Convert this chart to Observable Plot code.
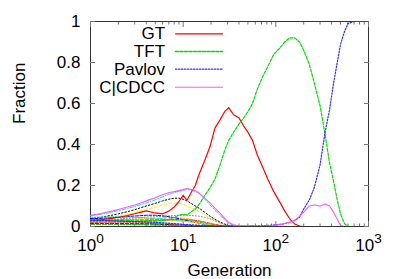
<!DOCTYPE html>
<html><head><meta charset="utf-8">
<script src="https://cdn.jsdelivr.net/npm/d3@7"></script>
<script src="https://cdn.jsdelivr.net/npm/@observablehq/plot@0.6"></script>
<style>
html,body{margin:0;padding:0;background:#fff;}
#chart svg{display:block;}
</style></head><body><div id="chart"></div>
<script>
// Generations sampled for the main strategies
const gens = [1,1.3,1.7,2,2.5,3,3.5,4,5,6,7,8,9,10,11,12,13.5,15,17,19.5,22,25,28,31,35,40,45,50,56,63,72,82,95,110,125,140,160,180,200,230,260,300,340,380,420,460,500,550,600,700,800,1000];
const gtFrac = [0.03,0.034,0.04,0.045,0.053,0.062,0.07,0.076,0.066,0.062,0.075,0.095,0.122,0.152,0.128,0.16,0.2,0.26,0.32,0.39,0.48,0.52,0.56,0.58,0.545,0.53,0.49,0.46,0.42,0.35,0.29,0.23,0.17,0.12,0.075,0.04,0.012,0.002,0,0,0,0,0,0,0,0,0,0,0,0,0,0];
const tftFrac = [0.03,0.03,0.03,0.03,0.029,0.028,0.028,0.027,0.027,0.03,0.035,0.045,0.055,0.06,0.055,0.07,0.085,0.11,0.15,0.19,0.23,0.3,0.37,0.42,0.46,0.5,0.53,0.56,0.6,0.67,0.73,0.78,0.84,0.87,0.9,0.92,0.92,0.9,0.86,0.79,0.7,0.59,0.45,0.31,0.22,0.13,0.06,0.015,0,0,0,0];
const pavlovFrac = [0.03,0.03,0.028,0.027,0.025,0.024,0.023,0.022,0.02,0.018,0.016,0.014,0.012,0.01,0.009,0.008,0.007,0.006,0.005,0.004,0.003,0.003,0.002,0.002,0.002,0.002,0.002,0.002,0.003,0.003,0.004,0.005,0.007,0.01,0.014,0.02,0.03,0.045,0.085,0.13,0.19,0.3,0.46,0.57,0.7,0.8,0.89,0.95,0.99,1,1,1];
const ccdccFrac = [0.055,0.063,0.075,0.083,0.095,0.105,0.115,0.125,0.14,0.155,0.165,0.17,0.175,0.18,0.185,0.182,0.175,0.162,0.14,0.115,0.09,0.065,0.04,0.02,0.008,0.003,0.002,0.002,0.002,0.002,0.002,0.003,0.005,0.01,0.015,0.02,0.03,0.05,0.07,0.1,0.105,0.1,0.11,0.1,0.07,0.035,0.005,0,0,0,0,0];

// Generations sampled for the other (unlabelled) strategies
const gensOther = [1,1.3,1.7,2,2.5,3,3.5,4,5,6,7,8,9,10,11,12,13.5,15,17,19.5,22,25,28,31,35,40,100,1000];
const other05 = [0.052,0.06,0.07,0.077,0.088,0.098,0.107,0.115,0.13,0.145,0.157,0.165,0.172,0.176,0.18,0.178,0.172,0.16,0.135,0.105,0.08,0.055,0.032,0.014,0.005,0.002,0,0];
const other06 = [0.035,0.04,0.047,0.052,0.06,0.068,0.076,0.083,0.095,0.105,0.113,0.115,0.113,0.108,0.1,0.093,0.085,0.072,0.058,0.04,0.027,0.015,0.008,0.003,0.001,0,0,0];
const other07 = [0.04,0.045,0.055,0.062,0.072,0.082,0.092,0.1,0.113,0.125,0.133,0.138,0.138,0.133,0.125,0.115,0.1,0.088,0.07,0.05,0.035,0.022,0.012,0.005,0.002,0,0,0];
const other08 = [0.03,0.031,0.032,0.033,0.035,0.036,0.037,0.038,0.04,0.042,0.043,0.043,0.042,0.04,0.038,0.035,0.03,0.025,0.018,0.012,0.007,0.004,0.002,0.001,0,0,0,0];
const other09 = [0.03,0.032,0.035,0.037,0.04,0.042,0.044,0.046,0.048,0.05,0.052,0.054,0.055,0.055,0.055,0.054,0.052,0.05,0.045,0.037,0.028,0.018,0.01,0.005,0.002,0,0,0];
const other10 = [0.032,0.03,0.028,0.027,0.025,0.023,0.021,0.019,0.016,0.013,0.011,0.009,0.007,0.006,0.005,0.004,0.003,0.002,0.001,0.001,0,0,0,0,0,0,0,0];
const other11 = [0.03,0.03,0.031,0.031,0.032,0.032,0.032,0.033,0.033,0.033,0.033,0.033,0.032,0.031,0.03,0.028,0.025,0.021,0.016,0.011,0.007,0.004,0.002,0.001,0,0,0,0];
const other12 = [0.038,0.04,0.043,0.045,0.048,0.051,0.053,0.055,0.055,0.052,0.048,0.043,0.038,0.033,0.029,0.025,0.02,0.016,0.011,0.007,0.004,0.002,0.001,0,0,0,0,0];
const other13 = [0.025,0.024,0.022,0.021,0.02,0.018,0.017,0.016,0.014,0.012,0.01,0.009,0.008,0.007,0.006,0.005,0.004,0.003,0.002,0.001,0,0,0,0,0,0,0,0];
const other14 = [0.045,0.046,0.047,0.047,0.046,0.045,0.044,0.042,0.04,0.037,0.034,0.031,0.028,0.026,0.024,0.022,0.019,0.016,0.012,0.008,0.005,0.003,0.001,0,0,0,0,0];
const other15 = [0.02,0.021,0.022,0.022,0.023,0.024,0.025,0.026,0.027,0.028,0.028,0.028,0.027,0.026,0.025,0.023,0.02,0.017,0.013,0.009,0.006,0.003,0.001,0,0,0,0,0];
const other16 = [0.015,0.015,0.015,0.014,0.014,0.013,0.013,0.012,0.011,0.01,0.009,0.008,0.007,0.006,0.006,0.005,0.004,0.003,0.002,0.001,0,0,0,0,0,0,0,0];
const other17 = [0.028,0.027,0.026,0.025,0.024,0.023,0.022,0.02,0.018,0.016,0.014,0.012,0.011,0.01,0.009,0.008,0.006,0.005,0.003,0.002,0.001,0,0,0,0,0,0,0];
const other18 = [0.01,0.01,0.01,0.01,0.009,0.009,0.009,0.008,0.008,0.007,0.006,0.006,0.005,0.005,0.004,0.004,0.003,0.002,0.002,0.001,0,0,0,0,0,0,0,0];
const other19 = [0.02,0.021,0.022,0.023,0.024,0.025,0.026,0.027,0.028,0.03,0.032,0.033,0.034,0.034,0.033,0.032,0.03,0.027,0.022,0.016,0.01,0.006,0.003,0.001,0,0,0,0];
const other20 = [0.012,0.012,0.012,0.011,0.011,0.01,0.01,0.009,0.008,0.007,0.006,0.005,0.004,0.004,0.003,0.003,0.002,0.002,0.001,0.001,0,0,0,0,0,0,0,0];

const legendNames = ["GT","TFT","Pavlov","C|CDCC"];
const legendY = [0.94,0.8537,0.7673,0.6795];
const legendX = [8.27,26.6];

const xMajorTicks = [1,10,100,1000];
const xTickExponents = ["0","1","2","3"];
const xMinorTicks = [2,3,4,5,6,7,8,9,20,30,40,50,60,70,80,90,200,300,400,500,600,700,800,900];
const yTicks = [0,0.2,0.4,0.6,0.8,1];
const yTickLabels = ["0","0.2","0.4","0.6","0.8","1"];

const rows = (xs, ys) => xs.map((g, i) => ({gen: g, frac: ys[i]}));

const mainSeries = [
  {name: "GT", values: gtFrac, color: "#ff0000", dash: null, width: 1.2},
  {name: "TFT", values: tftFrac, color: "#00dd00", dash: "3,1.5", width: 1.2},
  {name: "Pavlov", values: pavlovFrac, color: "#3030ff", dash: "1.5,1.5", width: 1.2},
  {name: "C|CDCC", values: ccdccFrac, color: "#ff55ff", dash: null, width: 1.1}
];
const otherSeries = [
  {values: other05, color: "#00e8e8", dash: "4,1.5,1,1.5"},
  {values: other06, color: "#f0f000", dash: "3,2"},
  {values: other07, color: "#000000", dash: "1.5,2"},
  {values: other08, color: "#ffa500", dash: "4,2"},
  {values: other09, color: "#909090", dash: "1,2"},
  {values: other10, color: "#ff0000", dash: "1.5,1.5"},
  {values: other11, color: "#00d000", dash: "3,2"},
  {values: other12, color: "#0000ff", dash: "3,1.5"},
  {values: other13, color: "#ff00ff", dash: "1.5,1.5"},
  {values: other14, color: "#00e0e0", dash: "2,1.5"},
  {values: other15, color: "#e8e800", dash: "1.5,1.5"},
  {values: other16, color: "#000000", dash: "3,2"},
  {values: other17, color: "#ff9000", dash: "1.5,1.5"},
  {values: other18, color: "#808080", dash: "4,2"},
  {values: other19, color: "#ff3030", dash: "3,1.5"},
  {values: other20, color: "#00c000", dash: "1.5,1.5"}
];

const font = "'Liberation Sans', Arial, Helvetica, sans-serif";

const marks = [
  Plot.frame({stroke: "#333", strokeWidth: 1}),
  Plot.axisY(yTicks, {anchor: "left", tickSize: -5, tickPadding: 15, stroke: "#777", fill: "#000", fontSize: 17,
    tickFormat: d => yTickLabels[yTicks.indexOf(d)], label: null}),
  Plot.axisY(yTicks, {anchor: "right", tickSize: -5, stroke: "#777", tickFormat: () => "", label: null}),
  Plot.axisX(xMajorTicks, {anchor: "bottom", tickSize: -5, tickPadding: 17, stroke: "#777", fill: "#000", fontSize: 17,
    tickFormat: d => "10^" + xTickExponents[xMajorTicks.indexOf(d)], label: null}),
  Plot.axisX(xMinorTicks, {anchor: "bottom", tickSize: -2.5, stroke: "#777", tickFormat: () => "", label: null}),
  Plot.axisX(xMajorTicks, {anchor: "top", tickSize: -5, stroke: "#777", tickFormat: () => "", label: null}),
  Plot.axisX(xMinorTicks, {anchor: "top", tickSize: -2.5, stroke: "#777", tickFormat: () => "", label: null}),
];
for (const s of otherSeries) {
  marks.push(Plot.line(rows(gensOther, s.values), {x: "gen", y: "frac", stroke: s.color, strokeWidth: 1,
    strokeDasharray: s.dash, clip: true}));
}
for (const s of mainSeries) {
  marks.push(Plot.line(rows(gens, s.values), {x: "gen", y: "frac", stroke: s.color, strokeWidth: s.width,
    strokeDasharray: s.dash, clip: true}));
}
// legend samples, drawn as two-point lines
mainSeries.forEach((s, i) => {
  marks.push(Plot.line(rows(legendX, [legendY[i], legendY[i]]), {x: "gen", y: "frac",
    stroke: s.color, strokeWidth: i === 1 ? 1.6 : s.width, strokeDasharray: s.dash}));
});
marks.push(Plot.text(legendNames.map((n, i) => ({n, y: legendY[i]})), {x: () => legendX[0], y: "y", text: "n",
  textAnchor: "end", dx: -10.5, fontSize: 17, fill: "#000"}));
// axis titles
marks.push(Plot.text(["Fraction"], {frameAnchor: "left", rotate: -90, dx: -70.5, text: d => d, fontSize: 17, fill: "#000"}));
marks.push(Plot.text(["Generation"], {frameAnchor: "bottom", lineAnchor: "bottom", dy: 49.5, text: d => d, fontSize: 17, fill: "#000"}));

const plot = Plot.plot({
  width: 399, height: 279,
  marginLeft: 90, marginRight: 31, marginTop: 21, marginBottom: 53,
  style: {fontFamily: font, fontSize: "17px", background: "#fff", color: "#000"},
  x: {type: "log", domain: [1, 1000]},
  y: {domain: [0, 1]},
  marks
});

// superscript exponents on x tick labels
d3.select(plot).selectAll("text").each(function() {
  const t = this.textContent;
  if (t && t.startsWith("10^")) {
    const exp = t.slice(3);
    const sel = d3.select(this);
    sel.text("");
    sel.append("tspan").text("10");
    sel.append("tspan").attr("dy", "-8").attr("font-size", "13.6px").text(exp);
  }
});

document.getElementById("chart").appendChild(plot);
</script></body></html>
